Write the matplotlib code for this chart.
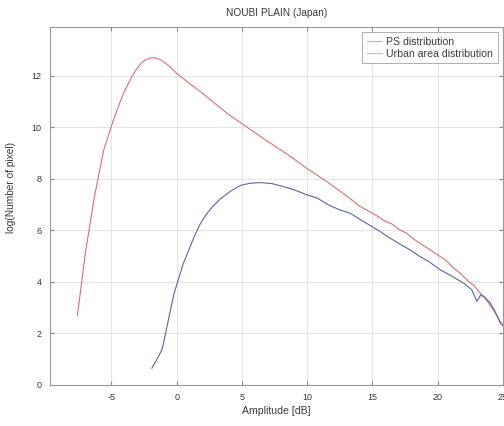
import matplotlib
matplotlib.use('Agg')
import matplotlib.pyplot as plt

# amplitude [dB] vs log(pixel count)
ps_amp = [-7.6, -7.0, -6.3, -5.6, -4.9, -4.4, -4.0, -3.5, -3.1, -2.7, -2.4, -2.0,
          -1.6, -1.2, -0.6, 0.0, 1.0, 1.8, 3.0, 4.0, 5.7, 7.0, 8.5, 10.0, 11.5,
          13.0, 14.0, 15.4, 16.0, 16.5, 17.0, 17.6, 18.2, 18.8, 19.4, 20.0, 20.6,
          21.2, 21.8, 22.4, 22.8, 23.2, 23.6, 24.0, 24.4, 24.8, 25.0]
ps_log = [2.7, 5.1, 7.3, 9.1, 10.2, 10.9, 11.4, 11.9, 12.25, 12.5, 12.62, 12.7,
          12.7, 12.62, 12.4, 12.1, 11.7, 11.4, 10.9, 10.5, 9.9, 9.45, 8.95, 8.4, 7.9,
          7.35, 6.95, 6.55, 6.35, 6.25, 6.05, 5.9, 5.65, 5.45, 5.25, 5.05, 4.85,
          4.55, 4.3, 4.0, 3.85, 3.6, 3.4, 3.1, 2.8, 2.45, 2.3]

urban_amp = [-1.9, -1.4, -1.1, -0.6, -0.2, 0.5, 1.3, 1.8, 2.3, 2.8, 3.4, 4.2, 4.9,
             5.6, 6.4, 7.3, 8.2, 9.0, 10.0, 10.8, 11.6, 12.5, 13.3, 14.3, 15.4,
             16.2, 17.0, 17.9, 18.6, 19.3, 20.2, 21.0, 22.0, 22.6, 23.0, 23.3, 23.6,
             24.0, 24.4, 24.8, 25.0]
urban_log = [0.65, 1.1, 1.4, 2.6, 3.55, 4.7, 5.7, 6.25, 6.65, 6.95, 7.25, 7.55, 7.75,
             7.83, 7.86, 7.82, 7.7, 7.58, 7.38, 7.25, 7.0, 6.8, 6.67, 6.35, 6.02,
             5.75, 5.5, 5.24, 5.0, 4.8, 4.47, 4.25, 3.95, 3.7, 3.25, 3.5, 3.4,
             3.2, 2.85, 2.4, 2.3]

xticks = [-5, 0, 5, 10, 15, 20, 25]
yticks = [0, 2, 4, 6, 8, 10, 12]

plt.rcParams['font.family'] = ['Liberation Sans', 'DejaVu Sans']
plt.rcParams['axes.unicode_minus'] = False
txt = '#3a3a3a'

fig = plt.figure(figsize=(5.04, 4.26), dpi=100)
ax = fig.add_axes([50/504, 41/426, 453/504, 358/426])

ax.plot(ps_amp, ps_log, color='#d97070', lw=0.8, label='PS distribution')
ax.plot(urban_amp, urban_log, color='#5a64aa', lw=0.8, label='Urban area distribution')

ax.set_xlim(-9.7, 25)
ax.set_ylim(0, 13.9)
ax.set_xticks(xticks)
ax.set_yticks(yticks)
ax.grid(True, color='#e4e4e4', lw=0.7)
ax.tick_params(direction='in', length=3, labelsize=6.5, colors='#888888',
               labelcolor=txt, top=True, right=True, pad=6)
for s in ax.spines.values():
    s.set_color('#999999')
    s.set_linewidth(0.8)

ax.set_title('NOUBI PLAIN (Japan)', fontsize=7.3, color=txt, pad=8)
ax.set_xlabel('Amplitude [dB]', fontsize=7.6, color=txt, labelpad=3)
ax.set_ylabel('log(Number of pixel)', fontsize=7.3, color=txt)
ax.yaxis.set_label_coords(-0.075, 0.553)

leg = ax.legend(loc='upper right', fontsize=7.6, frameon=True, fancybox=False,
                borderpad=0.45, handlelength=1.4, handletextpad=0.4,
                labelspacing=0.15, borderaxespad=0.5, edgecolor='#999999')
leg.get_frame().set_linewidth(0.7)
for t in leg.get_texts():
    t.set_color(txt)
for h in leg.get_lines():
    h.set_color('#bbbbbb')

fig.savefig('out.png', dpi=100)
